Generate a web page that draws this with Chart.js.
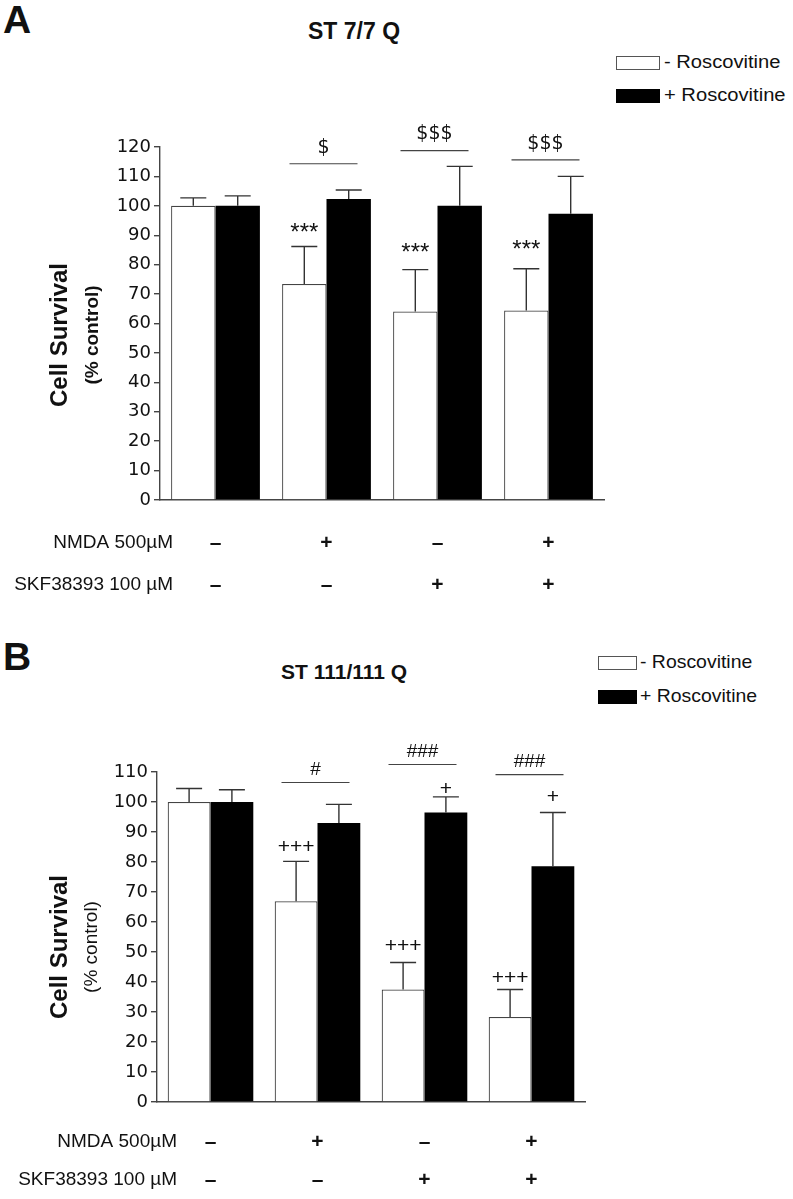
<!DOCTYPE html>
<html>
<head>
<meta charset="utf-8">
<script src="https://cdn.jsdelivr.net/npm/chart.js@4.4.0/dist/chart.umd.min.js"></script>
<style>
  html, body { margin:0; padding:0; background:#fff; }
  body { width:793px; height:1199px; position:relative; overflow:hidden; font-family:"Liberation Sans", Arial, sans-serif; color:#111; }
  .abs { position:absolute; white-space:nowrap; line-height:1; }
  .letter { font-weight:bold; font-size:39px; }
  .title { font-weight:bold; }
  .legbox { position:absolute; box-sizing:border-box; border:1px solid #555; }
  .legtxt { position:absolute; white-space:nowrap; line-height:1; transform-origin:0 50%; }
  .panel { position:absolute; left:0; width:793px; }
</style>
</head>
<body>

<div class="abs letter" style="left:3px;top:0px;">A</div>
<div class="abs title" style="left:308px;top:20px;font-size:23px;">ST 7/7 Q</div>
<div class="legbox" style="left:616px;top:56px;width:44px;height:14px;background:#fff;"></div>
<div class="legtxt" style="left:664px;top:53px;font-size:18px;transform:scaleX(1.12);">- Roscovitine</div>
<div class="legbox" style="left:616px;top:89px;width:44px;height:14px;background:#000;border-color:#000;"></div>
<div class="legtxt" style="left:664px;top:86px;font-size:18px;transform:scaleX(1.12);">+ Roscovitine</div>

<div class="abs letter" style="left:3px;top:637px;">B</div>
<div class="abs title" style="left:281px;top:661px;font-size:21px;">ST 111/111 Q</div>
<div class="legbox" style="left:598px;top:656px;width:39px;height:14px;background:#fff;"></div>
<div class="legtxt" style="left:640px;top:653px;font-size:18.5px;transform:scaleX(1.05);">- Roscovitine</div>
<div class="legbox" style="left:598px;top:690px;width:39px;height:14px;background:#000;border-color:#000;"></div>
<div class="legtxt" style="left:640px;top:687px;font-size:18.5px;transform:scaleX(1.05);">+ Roscovitine</div>

<div class="panel" style="top:0;height:600px;"><canvas id="chartA" width="793" height="600"></canvas></div>
<div class="panel" style="top:600px;height:599px;"><canvas id="chartB" width="793" height="599"></canvas></div>

<script>
// ---------- shared categories ----------
const categories = ['Control', 'NMDA', 'SKF38393', 'NMDA + SKF38393'];
const seriesNames = ['- Roscovitine', '+ Roscovitine'];
const nmdaSigns = ['-', '+', '-', '+'];
const skfSigns  = ['-', '-', '+', '+'];
const rowLabels = ['NMDA 500\u00B5M', 'SKF38393 100 \u00B5M'];

// ---------- Panel A : ST 7/7 Q ----------
const aMinusRosc     = [100, 73.4, 64.1, 64.4];
const aMinusRoscErr  = [2.7, 12.8, 14.2, 14.2];
const aPlusRosc      = [100, 102.3, 100, 97.3];
const aPlusRoscErr   = [3.4, 3.1, 13.4, 12.7];
const aTicks         = [0, 120, 10];           // min, max, step
const aStarText      = ['', '***', '***', '***'];   // vs control (over - Roscovitine)
const aStarValue     = [null, 91.8, 84.8, 85.8];
const aBracketText   = ['', '$', '$$$', '$$$'];     // - vs + Roscovitine
const aBracketValue  = [null, 114.3, 118.8, 115.6];

// ---------- Panel B : ST 111/111 Q ----------
const bMinusRosc     = [100, 66.9, 37.5, 28.3];
const bMinusRoscErr  = [4.5, 13.3, 9.0, 9.2];
const bPlusRosc      = [100, 93.0, 96.5, 78.6];
const bPlusRoscErr   = [4.1, 6.2, 5.2, 17.9];
const bTicks         = [0, 110, 10];
const bMinusMarkText = ['', '+++', '+++', '+++'];
const bMinusMarkValue= [null, 84.8, 52.0, 41.3];
const bPlusMarkText  = ['', '', '+', '+'];
const bPlusMarkValue = [null, null, 104.1, 101.7];
const bBracketText   = ['', '#', '###', '###'];
const bBracketValue  = [null, 106.5, 112.5, 109.1];

const annotPlugin = {
  id: 'annot',
  afterDatasetsDraw(chart, args, o) {
    const ctx = chart.ctx, y = chart.scales.y, x = chart.scales.x;
    ctx.save();
    // error bars (upper only)
    ctx.strokeStyle = '#333';
    ctx.lineWidth = 1.4;
    o.errors.forEach((errs, d) => {
      const meta = chart.getDatasetMeta(d);
      const vals = chart.data.datasets[d].data;
      errs.forEach((e, i) => {
        const bar = meta.data[i];
        const top = y.getPixelForValue(vals[i] + e);
        ctx.beginPath();
        ctx.moveTo(bar.x, bar.y);
        ctx.lineTo(bar.x, top);
        ctx.moveTo(bar.x - 13, top);
        ctx.lineTo(bar.x + 13, top);
        ctx.stroke();
      });
    });
    // marks above bars
    ctx.fillStyle = '#111';
    ctx.textAlign = 'center';
    ctx.textBaseline = 'middle';
    o.marks.forEach(m => {
      const meta = chart.getDatasetMeta(m.ds);
      m.text.forEach((t, i) => {
        if (!t) return;
        const bar = meta.data[i];
        ctx.font = m.font;
        ctx.fillText(t, bar.x, y.getPixelForValue(m.value[i]) + (m.dy || 0));
      });
    });
    // brackets
    ctx.strokeStyle = '#444';
    ctx.lineWidth = 1.2;
    o.brackets.text.forEach((t, i) => {
      if (!t) return;
      const cx = x.getPixelForValue(i) + o.brackets.shift;
      const py = y.getPixelForValue(o.brackets.value[i]);
      ctx.beginPath();
      ctx.moveTo(cx - o.brackets.half, py);
      ctx.lineTo(cx + o.brackets.half, py);
      ctx.stroke();
      ctx.font = o.brackets.font;
      ctx.fillText(t, cx, py - o.brackets.gap);
    });
    ctx.restore();
  },
  afterDraw(chart, args, o) {
    const ctx = chart.ctx, x = chart.scales.x, area = chart.chartArea;
    ctx.save();
    ctx.fillStyle = '#111';
    ctx.textBaseline = 'middle';
    // condition table
    o.rows.forEach((row, r) => {
      const ry = area.bottom + o.rowOffsets[r];
      ctx.textAlign = 'right';
      ctx.font = '19px "Liberation Sans", Arial, sans-serif';
      ctx.fillText(row.label, o.rowLabelRight, ry);
      ctx.textAlign = 'center';
      ctx.font = 'bold 21px "Liberation Sans", Arial, sans-serif';
      row.signs.forEach((s, i) => {
        ctx.fillText(s === '-' ? '\u2013' : s, x.getPixelForValue(i), ry);
      });
    });
    // y axis title (two lines)
    ctx.translate(0, o.titleY);
    ctx.rotate(-Math.PI / 2);
    ctx.textAlign = 'center';
    ctx.font = 'bold 24px "Liberation Sans", Arial, sans-serif';
    ctx.fillText('Cell Survival', 0, o.titleX1);
    ctx.font = o.subFont;
    ctx.fillText('(% control)', 0, o.titleX2);
    ctx.restore();
  }
};

function makeChart(id, minusVals, minusErr, plusVals, plusErr, ticks, layout, annot) {
  return new Chart(document.getElementById(id), {
    type: 'bar',
    data: {
      labels: categories,
      datasets: [
        { label: seriesNames[0], data: minusVals, backgroundColor: '#ffffff', borderColor: '#444', borderWidth: 1.2,
          categoryPercentage: 0.8, barPercentage: 1.0 },
        { label: seriesNames[1], data: plusVals, backgroundColor: '#000000', borderColor: '#000', borderWidth: 0,
          categoryPercentage: 0.8, barPercentage: 1.0 }
      ]
    },
    options: {
      responsive: false,
      animation: false,
      layout: { padding: { top: layout.top, right: layout.right, left: 0, bottom: 0 } },
      plugins: {
        legend: { display: false },
        tooltip: { enabled: false },
        title: { display: false },
        annot: Object.assign({ errors: [minusErr, plusErr] }, annot)
      },
      scales: {
        x: {
          grid: { display: false },
          border: { display: true, color: '#444', width: 1.4 },
          ticks: { display: false },
          afterFit: s => { s.height = layout.xHeight; }
        },
        y: {
          min: ticks[0], max: ticks[1],
          ticks: { stepSize: ticks[2], color: '#111', padding: 3,
                   font: { family: '"DejaVu Sans", sans-serif', size: 18 } },
          grid: { drawOnChartArea: false, drawTicks: true, tickLength: 6, color: '#444', lineWidth: 1.4 },
          border: { display: true, color: '#444', width: 1.4 },
          afterFit: s => { s.width = layout.yWidth; }
        }
      }
    },
    plugins: [annotPlugin]
  });
}

makeChart('chartA', aMinusRosc, aMinusRoscErr, aPlusRosc, aPlusRoscErr, aTicks,
  { top: 147, right: 189, xHeight: 100, yWidth: 160 },
  {
    marks: [ { ds: 0, text: aStarText, value: aStarValue, dy: 3, font: '24px "Liberation Sans", Arial, sans-serif' } ],
    brackets: { text: aBracketText, value: aBracketValue, half: 34, shift: -3, gap: 16,
                font: '19px "DejaVu Sans", sans-serif' },
    rows: [ { label: rowLabels[0], signs: nmdaSigns }, { label: rowLabels[1], signs: skfSigns } ],
    rowOffsets: [43, 85],
    rowLabelRight: 173,
    titleY: 335, titleX1: 60, titleX2: 93,
    subFont: 'bold 19px "Liberation Sans", Arial, sans-serif'
  });

makeChart('chartB', bMinusRosc, bMinusRoscErr, bPlusRosc, bPlusRoscErr, bTicks,
  { top: 172, right: 208, xHeight: 97, yWidth: 157 },
  {
    marks: [ { ds: 0, text: bMinusMarkText, value: bMinusMarkValue, font: '21px "Liberation Sans", Arial, sans-serif' },
             { ds: 1, text: bPlusMarkText, value: bPlusMarkValue, font: '21px "Liberation Sans", Arial, sans-serif' } ],
    brackets: { text: bBracketText, value: bBracketValue, half: 34, shift: -2, gap: 13,
                font: '19px "Liberation Sans", Arial, sans-serif' },
    rows: [ { label: rowLabels[0], signs: nmdaSigns }, { label: rowLabels[1], signs: skfSigns } ],
    rowOffsets: [40, 78],
    rowLabelRight: 177,
    titleY: 347, titleX1: 60, titleX2: 92,
    subFont: '19px "Liberation Sans", Arial, sans-serif'
  });
</script>
</body>
</html>
